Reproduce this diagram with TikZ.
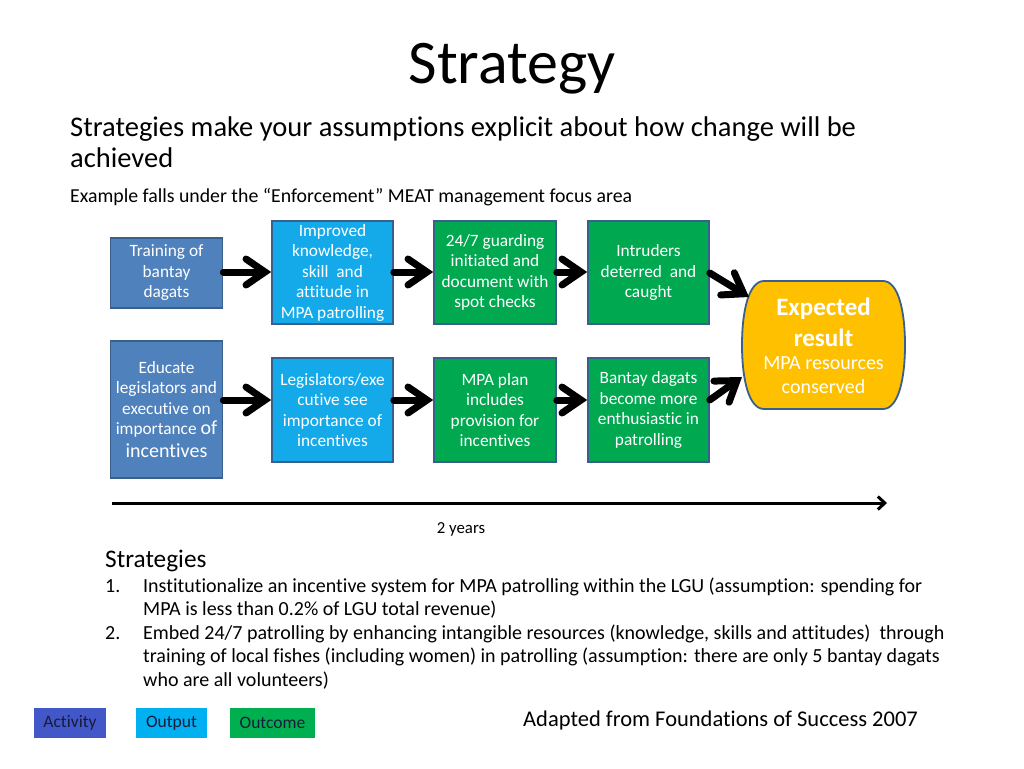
\documentclass[tikz,border=0pt]{standalone}
\usepackage{fontspec}
\setmainfont{Carlito}[Ligatures={NoCommon,TeX}]
\usetikzlibrary{arrows.meta}
\definecolor{actfill}{HTML}{4F81BD}
\definecolor{outfill}{HTML}{14AAEA}
\definecolor{ocfill}{HTML}{00A850}
\definecolor{boxline}{HTML}{3A5F8C}
\definecolor{expfill}{HTML}{FFC000}
\definecolor{legact}{HTML}{4358C8}
\definecolor{legout}{HTML}{00B0F0}
\definecolor{legoc}{HTML}{00B050}
\definecolor{legtext}{HTML}{1A1A3A}
\tikzset{
  box/.style={draw=boxline, line width=1.6pt, text=white, align=center, inner sep=0pt,
    font=\fontsize{17.3}{20.5}\selectfont},
  actbox/.style={box, fill=actfill},
  outbox/.style={box, fill=outfill},
  ocbox/.style={box, fill=ocfill},
  bigarrow/.style={line width=7pt, line cap=round, -{Straight Barb[length=19pt,width=26pt,line cap=round]}},
  legbox/.style={inner sep=0pt, text=legtext, font=\fontsize{17.5}{20}\selectfont},
  txt/.style={inner sep=0pt, anchor=base west, align=left}
}
\begin{document}
\begin{tikzpicture}[x=1pt,y=-1pt]
\useasboundingbox[fill=white] (0,0) rectangle (1024,768);

% title and header text
\node[inner sep=0pt, anchor=base, font=\fontsize{62}{68}\selectfont] (title) at (512,83) {Strategy};
\node[txt, font=\fontsize{28.5}{34}\selectfont] (sub1) at (70,136) {Strategies make your assumptions explicit about how change will be};
\node[txt, font=\fontsize{28.5}{34}\selectfont] (sub2) at (70,167) {achieved};
\node[txt, font=\fontsize{19.8}{23}\selectfont] (example) at (70,202) {Example falls under the “Enforcement” MEAT management focus area};

% boxes
\node[actbox, minimum width=112pt, minimum height=70pt] (train) at (166.5,273) {Training of\\bantay\\dagats};
\node[outbox, minimum width=121pt, minimum height=103pt] (improved) at (332.5,272.5) {Improved\\knowledge,\\skill\ \ and\\attitude in\\MPA patrolling};
\node[ocbox, minimum width=122pt, minimum height=103pt] (guard) at (495,272.5) {24/7 guarding\\initiated and\\document with\\spot checks};
\node[ocbox, minimum width=121pt, minimum height=103pt] (intrud) at (648.5,272.5) {Intruders\\deterred\ \ and\\caught};

\node[actbox, minimum width=112pt, minimum height=137pt] (educ) at (166.5,409.5)
  {Educate\\legislators and\\executive on\\importance {\fontsize{20}{23}\selectfont of}\\[2pt]{\fontsize{20}{23}\selectfont incentives}};
\node[outbox, minimum width=121pt, minimum height=104pt] (legis) at (332.5,410) {Legislators/exe\\cutive see\\importance of\\incentives};
\node[ocbox, minimum width=122pt, minimum height=104pt] (plan) at (495,410) {MPA plan\\includes\\provision for\\incentives};
\node[ocbox, minimum width=121pt, minimum height=104pt] (bantay) at (648.5,410) {Bantay dagats\\become more\\enthusiastic in\\patrolling};

% expected result: flat top and bottom, bulging sides
\path[fill=expfill, draw=boxline, line width=1.8pt]
  (764,281) -- (883,281)
  .. controls (898,281) and (905,310) .. (905,345)
  .. controls (905,380) and (898,409) .. (883,409)
  -- (764,409)
  .. controls (749,409) and (742,380) .. (742,345)
  .. controls (742,310) and (749,281) .. (764,281) -- cycle;
\node[box, draw=none, minimum width=163pt, minimum height=128pt,
  font=\fontsize{20}{24}\selectfont] (expect) at (823.5,346)
  {{\bfseries\fontsize{25}{30}\selectfont Expected}\\[7pt]{\bfseries\fontsize{25}{30}\selectfont result}\\[-1pt]MPA resources\\conserved};

% arrows
\coordinate (e1) at (749,297);
\coordinate (e2) at (742,377);
\draw[bigarrow] (train.east |- 0,272) -- (improved.west |- 0,272);
\draw[bigarrow] (improved.east |- 0,272) -- (guard.west |- 0,272);
\draw[bigarrow] (guard.east |- 0,272) -- (intrud.west |- 0,272);
\draw[bigarrow] (intrud.east |- 0,273) -- (e1);
\draw[bigarrow] (educ.east |- 0,400) -- (legis.west |- 0,400);
\draw[bigarrow] (legis.east |- 0,400) -- (plan.west |- 0,400);
\draw[bigarrow] (plan.east |- 0,400) -- (bantay.west |- 0,400);
\draw[bigarrow] (bantay.east |- 0,400) -- (e2);

% timeline
\coordinate (t0) at (112,503);
\coordinate (t1) at (887,503);
\draw[line width=3pt, -{Straight Barb[length=7pt,width=13pt]}] (t0) -- (t1);
\node[inner sep=0pt, anchor=base, font=\fontsize{16.8}{20}\selectfont] (years) at (461,533) {2 years};

% strategies
\node[txt, font=\fontsize{25.3}{30}\selectfont] (strath) at (105,567) {Strategies};
\tikzset{li/.style={txt, font=\fontsize{20}{24}\selectfont}}
\node[li] (n1) at (105,592) {1.};
\node[li] (l1a) at (143,592) {Institutionalize an incentive system for MPA patrolling within the LGU (assumption: spending for};
\node[li] (l1b) at (143,615) {MPA is less than 0.2\% of LGU total revenue)};
\node[li] (n2) at (105,639) {2.};
\node[li] (l2a) at (143,639) {Embed 24/7 patrolling by enhancing intangible resources (knowledge, skills and attitudes)\ \ through};
\node[li] (l2b) at (143,662) {training of local fishes (including women) in patrolling (assumption: there are only 5 bantay dagats};
\node[li] (l2c) at (143,686) {who are all volunteers)};

\node[txt, font=\fontsize{22.5}{26}\selectfont] (adapted) at (523,726) {Adapted from Foundations of Success 2007};

% legend
\node[legbox, fill=legact, minimum width=72pt, minimum height=30pt] (legA) at (70,723) {Activity};
\node[legbox, fill=legout, minimum width=71pt, minimum height=30pt] (legO) at (171.5,723) {Output};
\node[legbox, fill=legoc, minimum width=85pt, minimum height=30pt] (legC) at (272.5,723) {Outcome};
\end{tikzpicture}
\end{document}
